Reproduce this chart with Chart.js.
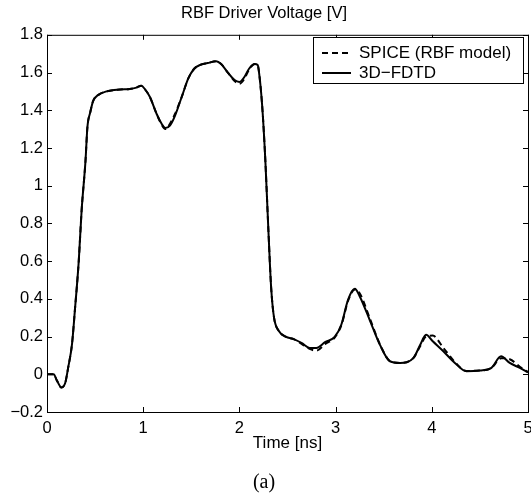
<!DOCTYPE html>
<html>
<head>
<meta charset="utf-8">
<script src="https://cdn.jsdelivr.net/npm/chart.js@4.4.0/dist/chart.umd.min.js"></script>
<style>
  html, body { margin: 0; padding: 0; background: #fff; }
  #wrap { width: 531px; height: 496px; }
</style>
</head>
<body>
<div id="wrap"><canvas id="myChart" width="531" height="496"></canvas></div>
<script>
// time axis in ns
const timeNs = [0, 0.07, 0.1, 0.15, 0.19, 0.22, 0.26, 0.29, 0.33, 0.36, 0.4, 0.42, 0.45, 0.48, 0.53, 0.62,
  0.76, 0.86, 0.93, 0.98, 1.02, 1.07, 1.14, 1.19, 1.23, 1.28, 1.33, 1.4, 1.47, 1.53, 1.59, 1.67, 1.76, 1.81,
  1.88, 1.95, 2.0, 2.05, 2.1, 2.16, 2.19, 2.21, 2.24, 2.27, 2.3, 2.33, 2.36, 2.41, 2.48, 2.57, 2.65, 2.73,
  2.8, 2.89, 2.99, 3.06, 3.13, 3.2, 3.25, 3.36, 3.46, 3.565, 3.67, 3.81, 3.88, 3.94, 4.01, 4.12, 4.24, 4.36,
  4.5, 4.62, 4.72, 4.81, 4.915, 5.0];

// 3D-FDTD (solid)
const fdtdV = [0, 0, -0.03, -0.07, -0.045, 0.035, 0.16, 0.34, 0.6, 0.87, 1.13, 1.31, 1.39, 1.45, 1.48, 1.5,
  1.51, 1.513, 1.52, 1.53, 1.51, 1.47, 1.38, 1.33, 1.306, 1.32, 1.37, 1.47, 1.57, 1.62, 1.64, 1.65, 1.66, 1.645,
  1.6, 1.56, 1.55, 1.575, 1.62, 1.645, 1.64, 1.575, 1.4, 1.13, 0.78, 0.46, 0.3, 0.23, 0.2, 0.185, 0.165, 0.14,
  0.14, 0.17, 0.198, 0.264, 0.396, 0.453, 0.414, 0.281, 0.157, 0.069, 0.06, 0.087, 0.157, 0.21, 0.175, 0.122,
  0.06, 0.016, 0.02, 0.034, 0.095, 0.06, 0.034, 0.01];

// SPICE (RBF model) (dashed)
const spiceV = [0, 0, -0.03, -0.07, -0.045, 0.035, 0.16, 0.34, 0.6, 0.87, 1.13, 1.31, 1.39, 1.45, 1.48, 1.5,
  1.51, 1.513, 1.52, 1.53, 1.51, 1.47, 1.38, 1.325, 1.3, 1.33, 1.38, 1.47, 1.57, 1.62, 1.64, 1.65, 1.66, 1.645,
  1.6, 1.555, 1.54, 1.565, 1.615, 1.645, 1.64, 1.575, 1.4, 1.13, 0.78, 0.46, 0.3, 0.23, 0.2, 0.185, 0.16, 0.135,
  0.125, 0.16, 0.195, 0.26, 0.39, 0.45, 0.43, 0.29, 0.16, 0.07, 0.06, 0.087, 0.15, 0.2, 0.205, 0.14,
  0.065, 0.018, 0.02, 0.034, 0.085, 0.08, 0.04, 0.012];

const xTicks = [0, 1, 2, 3, 4, 5];
const yTicks = [-0.2, 0, 0.2, 0.4, 0.6, 0.8, 1, 1.2, 1.4, 1.6, 1.8];

const toPoints = vals => vals.map((v, i) => ({ x: timeNs[i], y: v }));

Chart.defaults.font.family = "'Liberation Sans', Arial, sans-serif";
Chart.defaults.color = "#000";

// matlab style frame, inward ticks on all sides, and boxed legend
const framePlugin = {
  id: "frame",
  afterDraw(chart) {
    const ctx = chart.ctx;
    const a = chart.chartArea;
    const xs = chart.scales.x;
    const ys = chart.scales.y;
    ctx.save();
    ctx.strokeStyle = "#000";
    ctx.lineWidth = 1;
    ctx.strokeRect(a.left + 0.5, a.top + 0.5, a.right - a.left, a.bottom - a.top);
    ctx.beginPath();
    xs.ticks.forEach(t => {
      const px = Math.round(xs.getPixelForValue(t.value)) + 0.5;
      ctx.moveTo(px, a.bottom);
      ctx.lineTo(px, a.bottom - 5);
      ctx.moveTo(px, a.top);
      ctx.lineTo(px, a.top + 5);
    });
    ys.ticks.forEach(t => {
      const py = Math.round(ys.getPixelForValue(t.value)) + 0.5;
      ctx.moveTo(a.left, py);
      ctx.lineTo(a.left + 5, py);
      ctx.moveTo(a.right, py);
      ctx.lineTo(a.right - 5, py);
    });
    ctx.stroke();

    // legend
    const lx = 313, ly = 37, lw = 210, lh = 46;
    ctx.fillStyle = "#fff";
    ctx.fillRect(lx, ly, lw, lh);
    ctx.strokeRect(lx + 0.5, ly + 0.5, lw, lh);
    ctx.lineWidth = 2;
    ctx.setLineDash([6, 4]);
    ctx.beginPath();
    ctx.moveTo(322, 53);
    ctx.lineTo(351, 53);
    ctx.stroke();
    ctx.setLineDash([]);
    ctx.beginPath();
    ctx.moveTo(322, 73);
    ctx.lineTo(351, 73);
    ctx.stroke();
    ctx.fillStyle = "#000";
    ctx.font = "17px 'Liberation Sans', Arial, sans-serif";
    ctx.textBaseline = "middle";
    ctx.fillText("SPICE (RBF model)", 359, 53);
    ctx.fillText("3D\u2212FDTD", 359, 73);
    ctx.restore();
  }
};

const ctx = document.getElementById("myChart").getContext("2d");

new Chart(ctx, {
  type: "scatter",
  data: {
    datasets: [
      {
        label: "3D-FDTD",
        data: toPoints(fdtdV),
        showLine: true,
        borderColor: "#000",
        borderWidth: 2,
        pointRadius: 0,
        cubicInterpolationMode: "monotone"
      },
      {
        label: "SPICE (RBF model)",
        data: toPoints(spiceV),
        showLine: true,
        borderColor: "#000",
        borderWidth: 2,
        borderDash: [6, 4],
        pointRadius: 0,
        cubicInterpolationMode: "monotone"
      }
    ]
  },
  options: {
    responsive: false,
    animation: false,
    layout: { padding: { left: 0, right: 3, top: 0, bottom: 0 } },
    plugins: {
      legend: { display: false },
      tooltip: { enabled: false },
      title: {
        display: true,
        text: "RBF Driver Voltage [V]",
        font: { size: 16.5, weight: "normal" },
        padding: { top: 4, bottom: 11 }
      },
      subtitle: {
        display: true,
        position: "bottom",
        text: "(a)",
        font: { size: 20, family: "'Liberation Serif', 'Times New Roman', serif", weight: "normal" },
        padding: { top: 9, bottom: 1 }
      }
    },
    scales: {
      x: {
        type: "linear",
        min: 0,
        max: 5,
        afterBuildTicks: s => { s.ticks = xTicks.map(v => ({ value: v })); },
        ticks: { font: { size: 16.5 }, padding: 7, maxRotation: 0 },
        grid: { display: false, drawTicks: false },
        border: { display: false },
        title: { display: true, text: "Time [ns]", font: { size: 17 }, padding: { top: 0, bottom: 8 } },
        afterFit: s => { s.height = 50; s.paddingRight = 0; s.paddingLeft = 0; }
      },
      y: {
        type: "linear",
        min: -0.2,
        max: 1.8,
        afterBuildTicks: s => { s.ticks = yTicks.map(v => ({ value: v })); },
        ticks: {
          font: { size: 16.5 },
          padding: 4,
          callback: v => {
            const s = String(Number(v.toFixed(1)));
            return s.replace("-", "\u2212");
          }
        },
        grid: { display: false, drawTicks: false },
        border: { display: false },
        afterFit: s => { s.width = 47; }
      }
    }
  },
  plugins: [framePlugin]
});
</script>
</body>
</html>
